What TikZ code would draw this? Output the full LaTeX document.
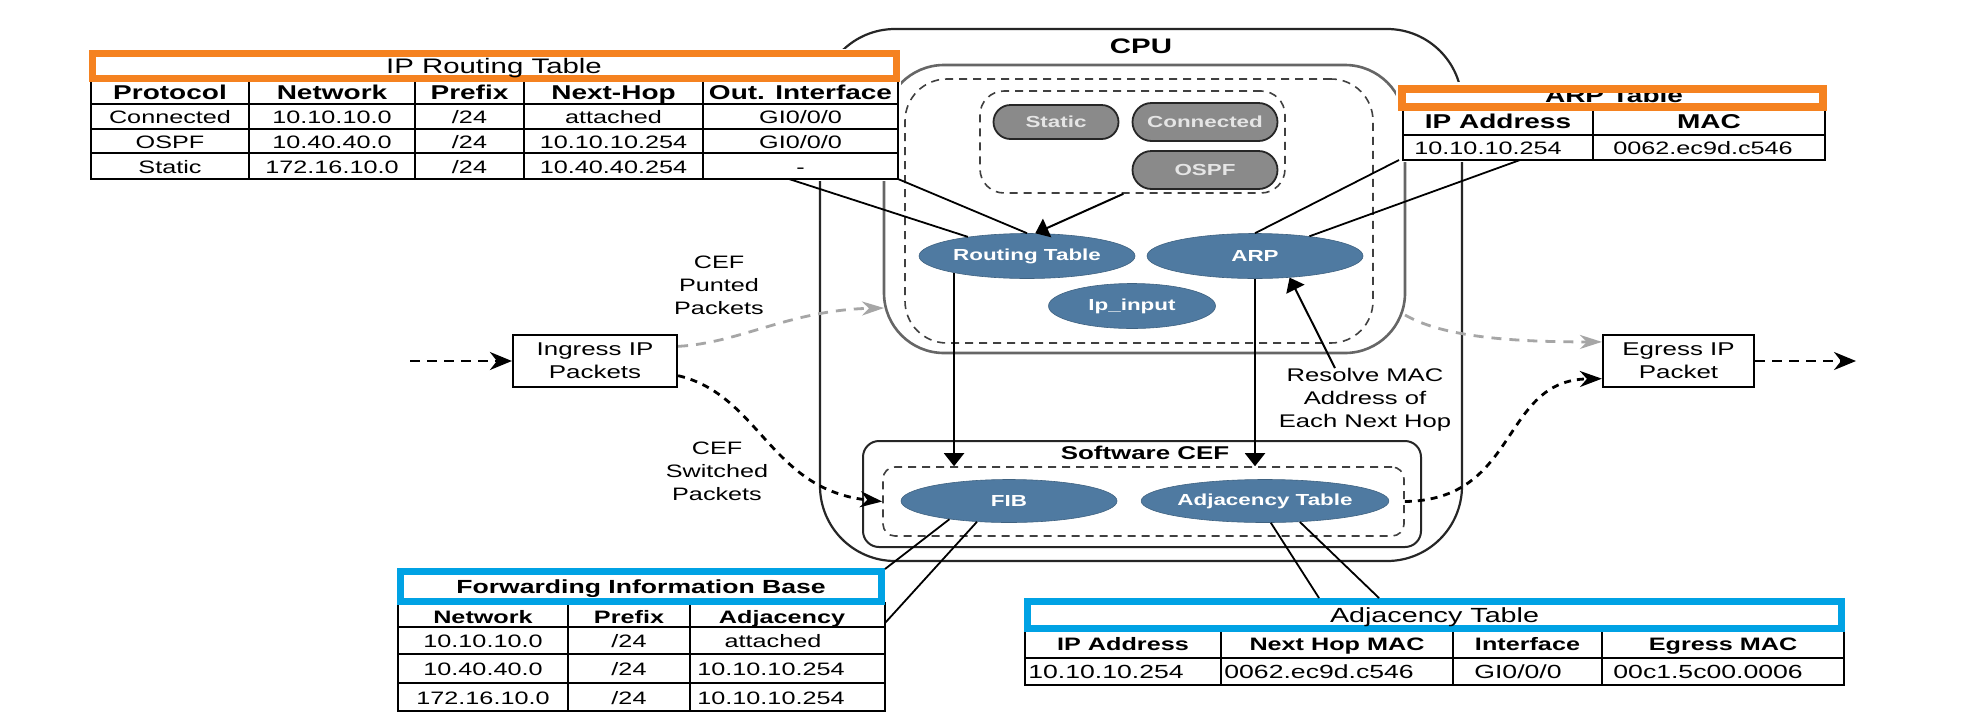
\documentclass[tikz,border=0pt]{standalone}
\usepackage{fontspec}
\setmainfont{Liberation Sans}[FakeStretch=1.4]
\usetikzlibrary{arrows.meta,shapes.geometric,calc}
\definecolor{orng}{RGB}{245,130,32}
\definecolor{cyanb}{RGB}{0,162,228}
\definecolor{steel}{RGB}{79,122,161}
\definecolor{pillg}{RGB}{138,138,138}
\newcommand{\myfs}[2]{\fontsize{#1}{#2}\selectfont}
\tikzset{
  tline/.style={line width=1pt},
  otitle/.style={draw=orng, line width=3.4pt},
  btitle/.style={draw=cyanb, line width=3.6pt},
  tcell/.style={inner sep=0pt, text height=0.72em, text depth=0pt},
  dcell/.style={tcell, font=\myfs{9}{11}},
  hcell/.style={tcell, font=\bfseries\myfs{10}{12}},
  ell/.style={ellipse, fill=steel, draw=steel!80!black, line width=0.3pt, inner sep=0pt, text=white, font=\bfseries\myfs{8}{10}},
  pill/.style={rectangle, rounded corners=8.5pt, fill=pillg, draw=black!85, line width=0.9pt, inner sep=0pt, text=white!90!black, font=\bfseries\myfs{8}{10}},
  sbox/.style={rectangle, draw=black!85, inner sep=0pt},
  dbox/.style={rectangle, draw=black!75, dash pattern=on 4pt off 3pt, line width=0.8pt, inner sep=0pt},
  pkt/.style={rectangle, draw, line width=1.1pt, fill=white, inner sep=0pt, align=center, font=\myfs{9.25}{11.5}},
  lbl/.style={inner sep=0pt, align=center, font=\myfs{9}{11.5}},
  sarr/.style={line width=1pt, -{Triangle[length=6.5pt,width=10pt]}},
  bdash/.style={line width=1.25pt, dash pattern=on 5pt off 3.5pt, -{Stealth[length=11pt,width=9pt,inset=3.5pt]}},
  kdash/.style={line width=1.4pt, dash pattern=on 3.5pt off 3pt, -{Stealth[length=11pt,width=8pt,inset=3.5pt]}},
  gdash/.style={line width=1.4pt, gray!70, dash pattern=on 5pt off 4pt, -{Stealth[length=11pt,width=7pt,inset=3.5pt]}},
  cline/.style={line width=0.9pt},
}
\begin{document}
\begin{tikzpicture}[x=0.5pt,y=-0.5pt]
\useasboundingbox (0,0) rectangle (1964,724);
\fill[white] (0,0) rectangle (1964,724);

% ---------- CPU ----------
\node[sbox, line width=1.1pt, rounded corners=37.5pt, minimum width=321pt, minimum height=266pt] (cpu) at (1141,295) {};
\node[sbox, draw=black!60, line width=1.3pt, rounded corners=30pt, minimum width=260.5pt, minimum height=144pt] (inner) at (1144.5,209) {};
\node[dbox, rounded corners=21pt, minimum width=234pt, minimum height=132pt] (cpudash) at (1139,211) {};
\node[dbox, rounded corners=12pt, minimum width=152.5pt, minimum height=51pt] (pillbox) at (1132.5,142) {};
\node[font=\bfseries\myfs{10.5}{12}, inner sep=0pt] (cpulbl) at (1141,46) {CPU};

\node[pill, minimum width=62.5pt, minimum height=17pt] (static) at (1056,122) {Static};
\node[pill, minimum width=72.5pt, minimum height=19pt, rounded corners=9.5pt] (conn) at (1205,122) {Connected};
\node[pill, minimum width=72.5pt, minimum height=19pt, rounded corners=9.5pt] (ospf) at (1205,170) {OSPF};

\node[ell, minimum width=108pt, minimum height=22.5pt] (rt) at (1027,256) {Routing Table};
\node[ell, minimum width=108pt, minimum height=22.5pt] (arp) at (1255,256) {ARP};
\node[ell, minimum width=83.5pt, minimum height=22.5pt] (ipin) at (1132,306) {Ip\_input};

% ---------- Software CEF ----------
\node[sbox, line width=1pt, rounded corners=8pt, minimum width=279pt, minimum height=53pt] (swcef) at (1142,494) {};
\node[dbox, rounded corners=6pt, minimum width=260.5pt, minimum height=34.5pt] (swdash) at (1143.5,501.5) {};
\node[font=\bfseries\myfs{9.25}{11}, inner sep=0pt] (swlbl) at (1145,453) {Software CEF};
\node[ell, minimum width=108pt, minimum height=21.5pt] (fib) at (1009,501) {FIB};
\node[ell, minimum width=108pt, minimum height=21.5pt] (adj) at (1265,501) {Adjacency Table};

% ---------- IP Routing Table ----------
\fill[white] (88,49) rectangle (901,181);
\draw[tline] (91,79) rectangle (898,179);
\foreach \y in {104,129,153} \draw[tline] (91,\y) -- (898,\y);
\foreach \x in {249,415,524,703} \draw[tline] (\x,79) -- (\x,179);
\draw[otitle] (92.4,53.4) rectangle (896.6,78.6);
\node[tcell, font=\myfs{10.5}{12}] (rttitle) at (494,66) {IP Routing Table};
\node[hcell] (rth1) at (170,92.5) {Protocol};
\node[hcell] (rth2) at (332,92.5) {Network};
\node[hcell] (rth3) at (469.5,92.5) {Prefix};
\node[hcell] (rth4) at (613.5,92.5) {Next-Hop};
\node[hcell] (rth5) at (800.5,92.5) {Out. Interface};
\node[dcell] (r1c1) at (170,116.5) {Connected};
\node[dcell] (r1c2) at (332,116.5) {10.10.10.0};
\node[dcell] (r1c3) at (469.5,116.5) {/24};
\node[dcell] (r1c4) at (613.5,116.5) {attached};
\node[dcell] (r1c5) at (800.5,116.5) {GI0/0/0};
\node[dcell] (r2c1) at (170,141) {OSPF};
\node[dcell] (r2c2) at (332,141) {10.40.40.0};
\node[dcell] (r2c3) at (469.5,141) {/24};
\node[dcell] (r2c4) at (613.5,141) {10.10.10.254};
\node[dcell] (r2c5) at (800.5,141) {GI0/0/0};
\node[dcell] (r3c1) at (170,166) {Static};
\node[dcell] (r3c2) at (332,166) {172.16.10.0};
\node[dcell] (r3c3) at (469.5,166) {/24};
\node[dcell] (r3c4) at (613.5,166) {10.40.40.254};
\node[dcell] (r3c5) at (800.5,166) {-};
\coordinate (rtc1) at (789,179);
\coordinate (rtc2) at (898,179);

% ---------- ARP Table ----------
\fill[white] (1396,82) rectangle (1829,162);
\draw[tline] (1403,107) rectangle (1825,160);
\draw[tline] (1403,135) -- (1825,135);
\draw[tline] (1593,107) -- (1593,160);
\node[tcell, font=\bfseries\myfs{10}{12}] (arptitle) at (1614,95.5) {ARP Table};
\draw[otitle, line width=4pt] (1402,89) rectangle (1823,107);
\node[hcell] (arph1) at (1498,121.5) {IP Address};
\node[hcell] (arph2) at (1709,121.5) {MAC};
\node[dcell] (arpd1) at (1488,147.5) {10.10.10.254};
\node[dcell] (arpd2) at (1703,147.5) {0062.ec9d.c546};
\coordinate (arpc1) at (1399,160);
\coordinate (arpc2) at (1520,160);

% ---------- FIB Table ----------
\fill[white] (395,566) rectangle (887,713);
\draw[tline] (398,603) rectangle (885,711);
\foreach \y in {627,654,683} \draw[tline] (398,\y) -- (885,\y);
\foreach \x in {568,690} \draw[tline] (\x,603) -- (\x,711);
\draw[btitle] (400.5,571.5) rectangle (881.5,601.5);
\node[tcell, font=\bfseries\myfs{9.5}{11}] (fibtitle) at (641,586) {Forwarding Information Base};
\node[tcell, font=\bfseries\myfs{9}{11}] (fibh1) at (483,616) {Network};
\node[tcell, font=\bfseries\myfs{9}{11}] (fibh2) at (629,616) {Prefix};
\node[tcell, font=\bfseries\myfs{9}{11}] (fibh3) at (782,616) {Adjacency};
\node[dcell] (f1c1) at (483,640.5) {10.10.10.0};
\node[dcell] (f1c2) at (629,640.5) {/24};
\node[dcell] (f1c3) at (773,640.5) {attached};
\node[dcell] (f2c1) at (483,668.5) {10.40.40.0};
\node[dcell] (f2c2) at (629,668.5) {/24};
\node[dcell] (f2c3) at (771,668.5) {10.10.10.254};
\node[dcell] (f3c1) at (483,697) {172.16.10.0};
\node[dcell] (f3c2) at (629,697) {/24};
\node[dcell] (f3c3) at (771,697) {10.10.10.254};
\coordinate (fibc1) at (885,569);
\coordinate (fibc2) at (885,623);

% ---------- Adjacency Table ----------
\fill[white] (1022,596) rectangle (1847,687);
\draw[tline] (1025,628) rectangle (1844,685);
\draw[tline] (1025,658) -- (1844,658);
\foreach \x in {1221,1453,1602} \draw[tline] (\x,628) -- (\x,685);
\draw[btitle] (1027.5,601.5) rectangle (1841.5,628.5);
\node[tcell, font=\myfs{10.25}{12}] (adjtitle) at (1434.5,615) {Adjacency Table};
\node[tcell, font=\bfseries\myfs{9}{11}] (adjh1) at (1123,643.5) {IP Address};
\node[tcell, font=\bfseries\myfs{9}{11}] (adjh2) at (1337,643.5) {Next Hop MAC};
\node[tcell, font=\bfseries\myfs{9}{11}] (adjh3) at (1527.5,643.5) {Interface};
\node[tcell, font=\bfseries\myfs{9}{11}] (adjh4) at (1723,643.5) {Egress MAC};
\node[tcell, font=\myfs{9.5}{11}, anchor=west] (adjd1) at (1028,671.5) {10.10.10.254};
\node[tcell, font=\myfs{9.5}{11}, anchor=west] (adjd2) at (1224,671.5) {0062.ec9d.c546};
\node[tcell, font=\myfs{9.5}{11}] (adjd3) at (1518,671.5) {GI0/0/0};
\node[tcell, font=\myfs{9.5}{11}, anchor=west] (adjd4) at (1613,671.5) {00c1.5c00.0006};
\coordinate (adjc1) at (1319,598);
\coordinate (adjc2) at (1379,598);

% ---------- callout lines ----------
\draw[cline] (rtc1) -- (rt);
\draw[cline] (rtc2) -- (rt.north);
\draw[cline] (arpc1) -- (arp.north);
\draw[cline] (arpc2) -- (arp);
\draw[cline] (fibc1) -- (fib.197);
\draw[cline] (fibc2) -- (fib.213);
\draw[cline] (adjc1) -- (adj.285);
\draw[cline] (adjc2) -- (adj.329);

% ---------- internal arrows ----------
\draw[sarr] (pillbox.260) -- (rt.70);
\draw[sarr] (rt.193) -- (rt.193 |- swdash.north);
\draw[sarr] (arp.south) -- (arp.south |- swdash.north);
\node[lbl, font=\myfs{9.15}{11.5}] (res) at (1365,400) {Resolve MAC\\Address of\\Each Next Hop};
\draw[sarr] ($(res.north)+(-30,0)$) -- (arp.328);

% ---------- packets ----------
\node[pkt, minimum width=82pt, minimum height=26pt] (ing) at (595,361) {Ingress IP\\Packets};
\node[pkt, minimum width=75.5pt, minimum height=26pt] (egr) at (1678.5,361) {Egress IP\\Packet};
\coordinate (inflow) at (410,361);
\coordinate (outflow) at (1856,361);
\coordinate (puntin) at (884,308);
\coordinate (puntout) at (1405,315);

\draw[bdash] (inflow) -- (ing.west);
\draw[bdash] (egr.east) -- (outflow);
\draw[gdash] (ing.10) .. controls (740,343) and (790,310) .. (puntin);
\draw[gdash] (puntout) .. controls (1440,335) and (1500,342) .. (egr.166);
\draw[kdash] (ing.-10) .. controls (760,395) and (770,490) .. (swdash.west);
\draw[kdash] (swdash.east) .. controls (1520,500) and (1500,380) .. (egr.193);

\node[lbl] (puntlbl) at (719,285) {CEF\\Punted\\Packets};
\node[lbl] (swlbl2) at (717,471) {CEF\\Switched\\Packets};
\end{tikzpicture}
\end{document}
